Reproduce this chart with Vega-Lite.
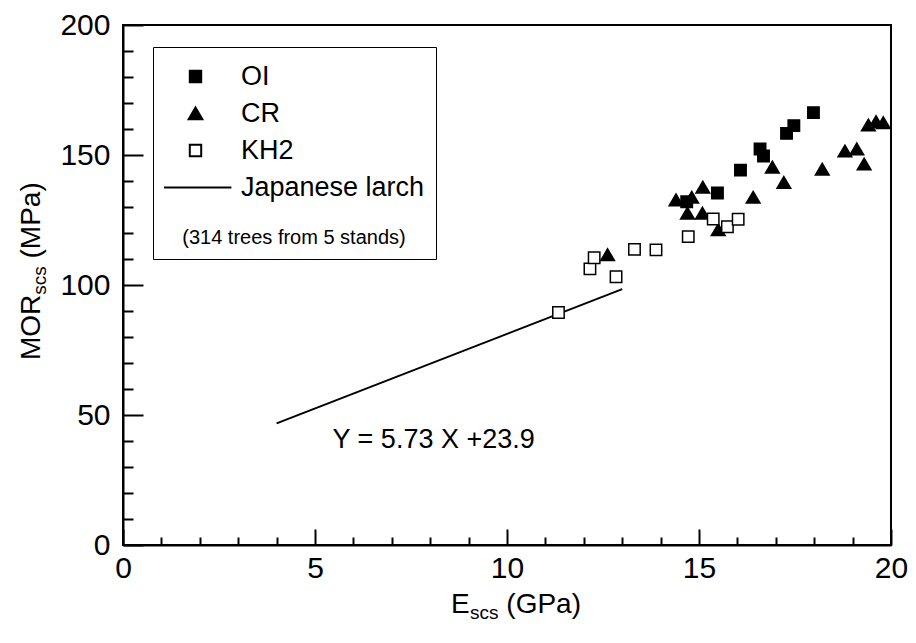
{
  "$schema": "https://vega.github.io/schema/vega-lite/v6.json",
  "width": 768,
  "height": 520,
  "autosize": {"type": "none"},
  "padding": {"left": 123, "top": 25, "right": 25, "bottom": 98},
  "background": "white",
  "config": {
    "font": "Liberation Sans",
    "view": {"stroke": "black", "strokeWidth": 2},
    "axis": {
      "grid": false,
      "domainColor": "black",
      "domainWidth": 2,
      "tickColor": "black",
      "tickWidth": 2,
      "labelColor": "black",
      "labelFont": "Liberation Sans",
      "labelFontSize": 30,
      "labelFlush": false,
      "labelOverlap": false
    }
  },
  "layer": [
    {
      "data": {"values": [{"E": 4, "MOR": 46.8}, {"E": 13, "MOR": 98.4}]},
      "mark": {"type": "line", "color": "black", "strokeWidth": 2},
      "encoding": {
        "x": {"field": "E", "type": "quantitative", "scale": {"domain": [0, 20], "nice": false, "zero": false},
              "axis": {"orient": "bottom", "values": [0, 5, 10, 15, 20], "ticks": false, "labelPadding": 8, "title": null}},
        "y": {"field": "MOR", "type": "quantitative", "scale": {"domain": [0, 200], "nice": false},
              "axis": {"orient": "left", "values": [0, 50, 100, 150, 200], "ticks": false, "labelPadding": 13, "title": null}}
      }
    },
    {
      "data": {"values": [
        {"group": "OI", "E": 14.68, "MOR": 132.0},
        {"group": "OI", "E": 15.48, "MOR": 135.4},
        {"group": "OI", "E": 16.08, "MOR": 144.2},
        {"group": "OI", "E": 16.59, "MOR": 152.3},
        {"group": "OI", "E": 16.68, "MOR": 149.6},
        {"group": "OI", "E": 17.28, "MOR": 158.3},
        {"group": "OI", "E": 17.47, "MOR": 161.3},
        {"group": "OI", "E": 17.98, "MOR": 166.3},
        {"group": "CR", "E": 12.62, "MOR": 111.6},
        {"group": "CR", "E": 14.40, "MOR": 132.7},
        {"group": "CR", "E": 14.81, "MOR": 133.7},
        {"group": "CR", "E": 15.10, "MOR": 137.6},
        {"group": "CR", "E": 14.70, "MOR": 127.6},
        {"group": "CR", "E": 15.09, "MOR": 127.6},
        {"group": "CR", "E": 15.50, "MOR": 121.2},
        {"group": "CR", "E": 16.41, "MOR": 133.7},
        {"group": "CR", "E": 16.91, "MOR": 145.3},
        {"group": "CR", "E": 17.21, "MOR": 139.4},
        {"group": "CR", "E": 18.21, "MOR": 144.5},
        {"group": "CR", "E": 18.80, "MOR": 151.5},
        {"group": "CR", "E": 19.11, "MOR": 152.3},
        {"group": "CR", "E": 19.30, "MOR": 146.5},
        {"group": "CR", "E": 19.41, "MOR": 161.5},
        {"group": "CR", "E": 19.61, "MOR": 162.8},
        {"group": "CR", "E": 19.80, "MOR": 162.4},
        {"group": "KH2", "E": 11.34, "MOR": 89.4},
        {"group": "KH2", "E": 12.16, "MOR": 106.2},
        {"group": "KH2", "E": 12.27, "MOR": 110.5},
        {"group": "KH2", "E": 12.84, "MOR": 103.2},
        {"group": "KH2", "E": 13.32, "MOR": 113.7},
        {"group": "KH2", "E": 13.88, "MOR": 113.5},
        {"group": "KH2", "E": 14.72, "MOR": 118.6},
        {"group": "KH2", "E": 15.37, "MOR": 125.4},
        {"group": "KH2", "E": 15.74, "MOR": 122.4},
        {"group": "KH2", "E": 16.02, "MOR": 125.3}
      ]},
      "mark": {"type": "point", "filled": true, "strokeWidth": 1.5, "opacity": 1, "size": 130},
      "encoding": {
        "x": {"field": "E", "type": "quantitative", "scale": {"domain": [0, 20], "nice": false, "zero": false},
              "axis": {"orient": "bottom", "offset": -16, "tickSize": 16, "values": [0, 5, 10, 15, 20], "labels": false, "domain": false, "title": null}},
        "y": {"field": "MOR", "type": "quantitative", "scale": {"domain": [0, 200], "nice": false},
              "axis": {"orient": "left", "offset": -20, "tickSize": 20, "values": [0, 50, 100, 150, 200], "labels": false, "domain": false, "title": null}},
        "shape": {"field": "group", "type": "nominal",
                  "scale": {"domain": ["OI", "CR", "KH2", "Japanese larch"],
                            "range": ["square", "M0,-1.05L1.2,1L-1.2,1Z", "square", "M-6.3,0H6.3"]},
                  "legend": {
                    "title": "(314 trees from 5 stands)",
                    "titleOrient": "bottom",
                    "titleFontSize": 20,
                    "titleFontWeight": "normal",
                    "titleColor": "black",
                    "titleFont": "Liberation Sans",
                    "titleAnchor": "middle",
                    "titlePadding": 22,
                    "titleLimit": 400,
                    "orient": "none",
                    "legendX": 30,
                    "legendY": 22,
                    "strokeColor": "black",
                    "padding": 11,
                    "labelFont": "Liberation Sans",
                    "labelFontSize": 27,
                    "labelColor": "black",
                    "labelLimit": 400,
                    "labelOffset": 32,
                    "symbolOffset": 18,
                    "symbolSize": 130,
                    "clipHeight": 37,
                    "rowPadding": 0,
                    "symbolStrokeWidth": 2,
                    "encode": {
                      "legend": {"update": {"strokeWidth": {"value": 2}}}
                    }
                  }},
        "fill": {"field": "group", "type": "nominal",
                 "scale": {"domain": ["OI", "CR", "KH2", "Japanese larch"], "range": ["black", "black", "white", "black"]},
                 "legend": {"title": "(314 trees from 5 stands)"}},
        "stroke": {"field": "group", "type": "nominal",
                   "scale": {"domain": ["OI", "CR", "KH2", "Japanese larch"], "range": ["black", "black", "black", "black"]},
                   "legend": {"title": "(314 trees from 5 stands)"}}
      }
    },
    {
      "data": {"values": [{"label": "Y = 5.73 X +23.9"}]},
      "mark": {"type": "text", "fontSize": 27, "align": "center", "baseline": "alphabetic", "color": "black"},
      "encoding": {
        "text": {"field": "label"},
        "x": {"datum": 8.09, "type": "quantitative",
              "axis": {"orient": "bottom", "offset": -8, "tickSize": 8, "values": [1, 2, 3, 4, 6, 7, 8, 9, 11, 12, 13, 14, 16, 17, 18, 19], "labels": false, "domain": false, "title": null}},
        "y": {"datum": 37.3, "type": "quantitative",
              "axis": {"orient": "left", "offset": -10, "tickSize": 10, "values": [10, 20, 30, 40, 60, 70, 80, 90, 110, 120, 130, 140, 160, 170, 180, 190], "labels": false, "domain": false, "title": null}}
      }
    },
    {
      "data": {"values": [{"label": "E"}]},
      "mark": {"type": "text", "fontSize": 28, "align": "left", "baseline": "alphabetic", "color": "black"},
      "encoding": {
        "text": {"field": "label"},
        "x": {"datum": 8.542, "type": "quantitative", "axis": null},
        "y": {"datum": -26.15, "type": "quantitative", "axis": null}
      }
    },
    {
      "data": {"values": [{"label": "scs"}]},
      "mark": {"type": "text", "fontSize": 19, "align": "left", "baseline": "alphabetic", "color": "black"},
      "encoding": {
        "text": {"field": "label"},
        "x": {"datum": 9.036, "type": "quantitative", "axis": null},
        "y": {"datum": -28.46, "type": "quantitative", "axis": null}
      }
    },
    {
      "data": {"values": [{"label": "(GPa)"}]},
      "mark": {"type": "text", "fontSize": 28, "align": "left", "baseline": "alphabetic", "color": "black"},
      "encoding": {
        "text": {"field": "label"},
        "x": {"datum": 9.982, "type": "quantitative", "axis": null},
        "y": {"datum": -26.15, "type": "quantitative", "axis": null}
      }
    },
    {
      "data": {"values": [{"label": "MOR"}]},
      "mark": {"type": "text", "fontSize": 28, "align": "left", "baseline": "alphabetic", "angle": 270, "color": "black"},
      "encoding": {
        "text": {"field": "label"},
        "x": {"datum": -2.161, "type": "quantitative", "axis": null},
        "y": {"datum": 71.15, "type": "quantitative", "axis": null}
      }
    },
    {
      "data": {"values": [{"label": "scs"}]},
      "mark": {"type": "text", "fontSize": 19, "align": "left", "baseline": "alphabetic", "angle": 270, "color": "black"},
      "encoding": {
        "text": {"field": "label"},
        "x": {"datum": -2.005, "type": "quantitative", "axis": null},
        "y": {"datum": 96.27, "type": "quantitative", "axis": null}
      }
    },
    {
      "data": {"values": [{"label": "(MPa)"}]},
      "mark": {"type": "text", "fontSize": 28, "align": "left", "baseline": "alphabetic", "angle": 270, "color": "black"},
      "encoding": {
        "text": {"field": "label"},
        "x": {"datum": -2.161, "type": "quantitative", "axis": null},
        "y": {"datum": 110.2, "type": "quantitative", "axis": null}
      }
    }
  ],
  "resolve": {"axis": {"x": "independent", "y": "independent"}}
}
